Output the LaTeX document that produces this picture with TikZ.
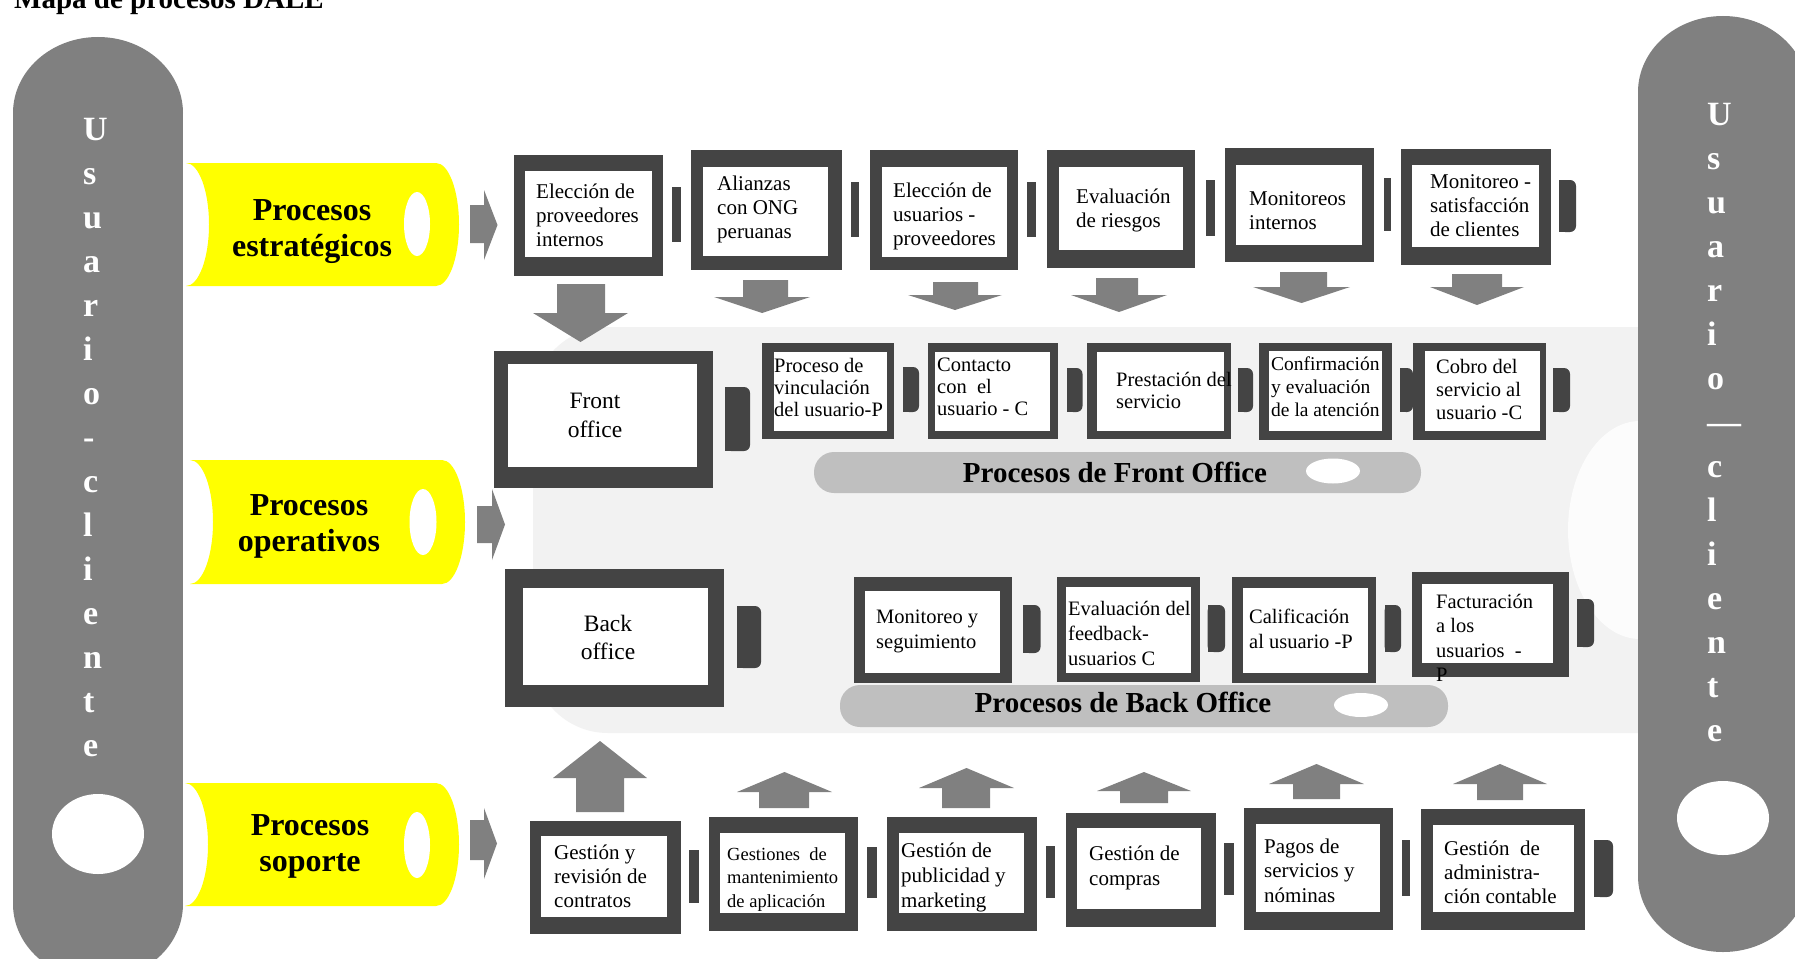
\documentclass[tikz,border=0pt]{standalone}
\usepackage{fontspec}
\setmainfont{Liberation Serif}

\definecolor{boxgray}{HTML}{444444}
\definecolor{arrgray}{HTML}{808080}
\definecolor{panelgray}{HTML}{F2F2F2}
\definecolor{panelend}{HTML}{FCFCFC}
\definecolor{pillgray}{HTML}{BFBFBF}
\definecolor{procyellow}{HTML}{FFFF00}

% stacked lines whose baseline is the first line
\newcommand\lines[2][l]{\begin{tabular}[t]{@{}#1@{}}#2\end{tabular}}
\newcommand\fsz[2]{\fontsize{#1}{#2}\selectfont}

% monitor-like process box: outer dark frame and white screen
\newcommand\monbox[8]{%
  \fill[boxgray] (#1,#2) rectangle (#3,#4);
  \fill[white] (#5,#6) rectangle (#7,#8);}
% square connector tab
\newcommand\sqtab[4]{\fill[boxgray] (#1,#2) rectangle (#3,#4);}
% connector tab rounded on its right side
\newcommand\rdtab[4]{%
  \fill[boxgray, rounded corners=6pt] (#1,#2) rectangle (#3,#4);
  \fill[boxgray] (#1,#2) rectangle ({(#1+#3)/2},#4);}
% vertical block arrow: shaft x1,x2, shaft end, head base, head x1,x2, tip
\newcommand\arrvert[7]{%
  \fill[arrgray] (#1,#3) -- (#2,#3) -- (#2,#4) -- (#6,#4)
    -- ({(#5+#6)/2},#7) -- (#5,#4) -- (#1,#4) -- cycle;}
% right block arrow: shaft y1,y2, tail x, head base x, head y1,y2, tip x
\newcommand\arrright[7]{%
  \fill[arrgray] (#3,#1) -- (#4,#1) -- (#4,#5) -- (#7,{(#5+#6)/2})
    -- (#4,#6) -- (#4,#2) -- (#3,#2) -- cycle;}
% horizontal yellow cylinder: left x, right x, top y, bottom y, half height
\newcommand\cyl[5]{%
  \fill[procyellow] (#1,#3) -- (#2,#3)
    arc[start angle=-90, end angle=90, x radius=23, y radius=#5]
    -- (#1,#4)
    arc[start angle=90, end angle=-90, x radius=23, y radius=#5] -- cycle;}

\begin{document}
\begin{tikzpicture}[x=1pt, y=-1pt,
  txt/.style={inner sep=0pt, anchor=base west, font=\fsz{21}{24}},
  ctxt/.style={inner sep=0pt, anchor=base},
  pillartxt/.style={inner sep=0pt, anchor=base west, text=white,
    font=\bfseries\fsz{34}{44}},
  proclabel/.style={inner sep=0pt, anchor=base, font=\bfseries\fsz{32}{36}},
  pilltxt/.style={inner sep=0pt, anchor=base, font=\bfseries\fsz{29}{34}}]
\useasboundingbox (0,0) rectangle (1795,958);
\clip (0,0) rectangle (1795,958);
\fill[white] (0,0) rectangle (1795,958);

% central operating panel
\fill[panelgray, rounded corners=75pt] (533,327) rectangle (1720,733);
\fill[panelend] (1640,530) ellipse[x radius=72, y radius=109];

% user-client pillars
\fill[arrgray] (98,113) ellipse[x radius=85, y radius=76];
\fill[arrgray] (13,113) rectangle (183,904);
\fill[arrgray] (98,904) ellipse[x radius=85, y radius=76];
\fill[white] (98,834) ellipse[x radius=46, y radius=40];

\fill[arrgray] (1723,92) ellipse[x radius=85, y radius=76];
\fill[arrgray] (1638,92) rectangle (1808,876);
\fill[arrgray] (1723,876) ellipse[x radius=85, y radius=76];
\fill[white] (1723,818) ellipse[x radius=46, y radius=37];

\node[pillartxt] (uc-left) at (83,140)
  {\lines{U\\s\\u\\a\\r\\i\\o\\-\\c\\l\\i\\e\\n\\t\\e}};
\node[pillartxt] (uc-right) at (1707,125)
  {\lines{U\\s\\u\\a\\r\\i\\o\\—\\c\\l\\i\\e\\n\\t\\e}};

% title
\node[inner sep=0pt, anchor=base west, font=\bfseries\fsz{29}{34}] (title)
  at (14,9) {Mapa de procesos DALE};

% process family cylinders
\cyl{186}{436}{163}{286}{61.5}
\fill[white] (417,224) ellipse[x radius=13, y radius=32];
\cyl{190}{442}{460}{584}{62}
\fill[white] (423,522) ellipse[x radius=13.5, y radius=33];
\cyl{185}{436}{783}{906}{61.5}
\fill[white] (417,845) ellipse[x radius=13, y radius=33];

\node[proclabel] (lbl-estr) at (312,220) {\lines[c]{Procesos\\estratégicos}};
\node[proclabel] (lbl-oper) at (309,515) {\lines[c]{Procesos\\operativos}};
\node[proclabel] (lbl-sop) at (310,835) {\lines[c]{Procesos\\soporte}};

% arrows from the cylinders
\arrright{205}{243}{470}{484}{190}{260}{497.5}
\arrright{506}{543}{477}{492}{489}{560}{505}
\arrright{820}{860}{470}{484}{808}{879}{497}

% strategic arrows (down)
\arrvert{557}{605}{284}{313}{533}{628}{342}
\arrvert{743}{788}{280}{297}{714}{810}{313}
\arrvert{933}{978}{282}{295}{908}{1002}{310}
\arrvert{1096}{1138}{278}{295}{1071}{1167}{312}
\arrvert{1280}{1327}{272}{287}{1253}{1350}{303}
\arrvert{1452}{1502}{274}{287}{1430}{1524}{305}

% support arrows (up)
\arrvert{576}{624}{812}{778}{553}{647}{741}
\arrvert{759}{809}{808}{792}{737}{832}{772}
\arrvert{942}{990}{808}{788}{919}{1014}{768}
\arrvert{1120}{1168}{803}{791}{1097}{1191}{772}
\arrvert{1293}{1340}{799}{784}{1269}{1364}{764}
\arrvert{1477}{1523}{800}{784}{1453}{1547}{764}

% group pills
\fill[pillgray, rounded corners=20pt] (814,452) rectangle (1421,493);
\fill[white] (1333,471) ellipse[x radius=27, y radius=12.5];
\fill[pillgray, rounded corners=20pt] (840,685) rectangle (1448,727);
\fill[white] (1361,705) ellipse[x radius=27, y radius=12];
\node[pilltxt] (fo-title) at (1115,482) {Procesos de Front Office};
\node[pilltxt] (bo-title) at (1123,712) {Procesos de Back Office};

% strategic row
\monbox{513.5}{155}{663}{276}{524.6}{171}{652}{257}
\sqtab{672}{187}{681}{242}
\monbox{691}{150}{841.6}{270}{703}{167}{828}{256}
\sqtab{850.5}{182}{858.6}{237}
\monbox{870}{150}{1018}{270}{882}{167}{1007}{257}
\sqtab{1027}{182}{1036}{237}
\monbox{1047}{150}{1195}{268}{1059}{167}{1183}{250}
\sqtab{1205.5}{180}{1214.6}{236}
\monbox{1225}{148}{1374}{262}{1236}{165}{1362}{245}
\sqtab{1384}{178}{1391}{231}
\monbox{1401}{149}{1551}{265}{1412}{165}{1539}{247}
\rdtab{1559}{180}{1576}{232}

\node[txt] (e1) at (536,198) {\lines{Elección de\\proveedores\\internos}};
\node[txt] (e2) at (717,190) {\lines{Alianzas\\con ONG\\peruanas}};
\node[txt] (e3) at (893,197) {\lines{Elección de\\usuarios -\\proveedores}};
\node[txt] (e4) at (1076,203) {\lines{Evaluación\\de riesgos}};
\node[txt] (e5) at (1249,205) {\lines{Monitoreos\\internos}};
\node[txt] (e6) at (1430,188) {\lines{Monitoreo -\\satisfacción\\de clientes}};

% front and back office
\monbox{494}{351}{713}{488}{508}{364}{697}{467}
\rdtab{725}{387}{750}{451}
\monbox{505}{569}{724}{707}{523}{588}{708}{685}
\rdtab{737}{606}{761}{668}
\node[ctxt, font=\fsz{23.5}{29}] (front) at (595,408) {\lines[c]{Front\\office}};
\node[ctxt, font=\fsz{23.5}{28}] (back) at (608,631) {\lines[c]{Back\\office}};

% front office processes
\monbox{762}{343}{894}{439}{773.6}{352}{887}{431}
\rdtab{903}{367}{919}{412}
\monbox{927.6}{343}{1058}{439}{935}{352}{1050}{431}
\rdtab{1067}{368}{1082.5}{412}
\monbox{1087}{343}{1231}{439}{1097}{352}{1224}{431}
\rdtab{1238}{368}{1253}{412}
\monbox{1259}{343}{1392}{440}{1268.5}{351}{1382}{431}
\rdtab{1400}{368}{1413}{412}
\monbox{1413}{343}{1546}{440}{1425}{351}{1540}{431}
\rdtab{1553}{368}{1570}{412}

\node[txt, font=\fsz{20.5}{22}] (f1) at (774,372) {\lines{Proceso de\\vinculación\\del usuario-P}};
\node[txt, font=\fsz{20.5}{22}] (f2) at (937,371) {\lines{Contacto\\con\ \ el\\usuario - C}};
\node[txt, font=\fsz{20.5}{22}] (f3) at (1116,386) {\lines{Prestación del\\servicio}};
\node[txt, font=\fsz{19.5}{23}] (f4) at (1271,370) {\lines{Confirmación\\y evaluación\\de la atención}};
\node[txt, font=\fsz{20.5}{23}] (f5) at (1436,373) {\lines{Cobro del\\servicio al\\usuario -C}};

% back office processes
\monbox{854}{577}{1012}{683}{865}{591}{1000}{673}
\rdtab{1023}{605}{1040.5}{653}
\monbox{1057}{577}{1200}{682}{1066}{587}{1191}{673}
\rdtab{1207.6}{605}{1225}{652}
\monbox{1232}{577}{1376}{683}{1242.5}{588}{1368}{673}
\rdtab{1384.5}{605}{1401}{652}
\monbox{1412}{572}{1569}{677}{1421.5}{584}{1553}{663}
\rdtab{1577}{599}{1594}{647}

\node[txt, font=\fsz{20.5}{25}] (g1) at (876,623) {\lines{Monitoreo y\\seguimiento}};
\node[txt, font=\fsz{20.5}{25}] (g2) at (1068,615) {\lines{Evaluación del\\feedback-\\usuarios C}};
\node[txt, font=\fsz{20.5}{25}] (g3) at (1249,623) {\lines{Calificación\\al usuario -P}};
\node[txt, font=\fsz{20.5}{24.5}] (g4) at (1436,608) {\lines{Facturación\\a los\\usuarios\ \ -\\P}};

% support row
\monbox{530}{821}{681}{934}{541}{836}{667}{917}
\sqtab{689}{850}{698.6}{903}
\monbox{709}{817}{858}{931}{720}{833}{845}{913}
\sqtab{867}{847}{877}{898}
\monbox{887}{817}{1037}{931}{898.6}{833}{1023.6}{913}
\sqtab{1046}{846}{1055}{898}
\monbox{1066}{813}{1216}{927}{1077}{828}{1201}{909}
\sqtab{1224}{843}{1234}{895}
\monbox{1244}{808}{1393}{930}{1256}{824}{1379.5}{912}
\sqtab{1402}{840}{1410}{896}
\monbox{1421}{809}{1585}{930}{1433}{825}{1574}{912}
\rdtab{1594}{840}{1613}{897}

\node[txt] (s1) at (554,859) {\lines{Gestión y\\revisión de\\contratos}};
\node[txt, font=\fsz{18.5}{23.5}] (s2) at (727,860) {\lines{Gestiones\ \ de\\mantenimiento\\de aplicación}};
\node[txt, font=\fsz{21}{25}] (s3) at (901,857) {\lines{Gestión de\\publicidad y\\marketing}};
\node[txt, font=\fsz{21}{25}] (s4) at (1089,860) {\lines{Gestión de\\compras}};
\node[txt, font=\fsz{21}{24.5}] (s5) at (1264,853) {\lines{Pagos de\\servicios y\\nóminas}};
\node[txt] (s6) at (1444,855) {\lines{Gestión\ \ de\\administra-\\ción contable}};
\end{tikzpicture}
\end{document}
